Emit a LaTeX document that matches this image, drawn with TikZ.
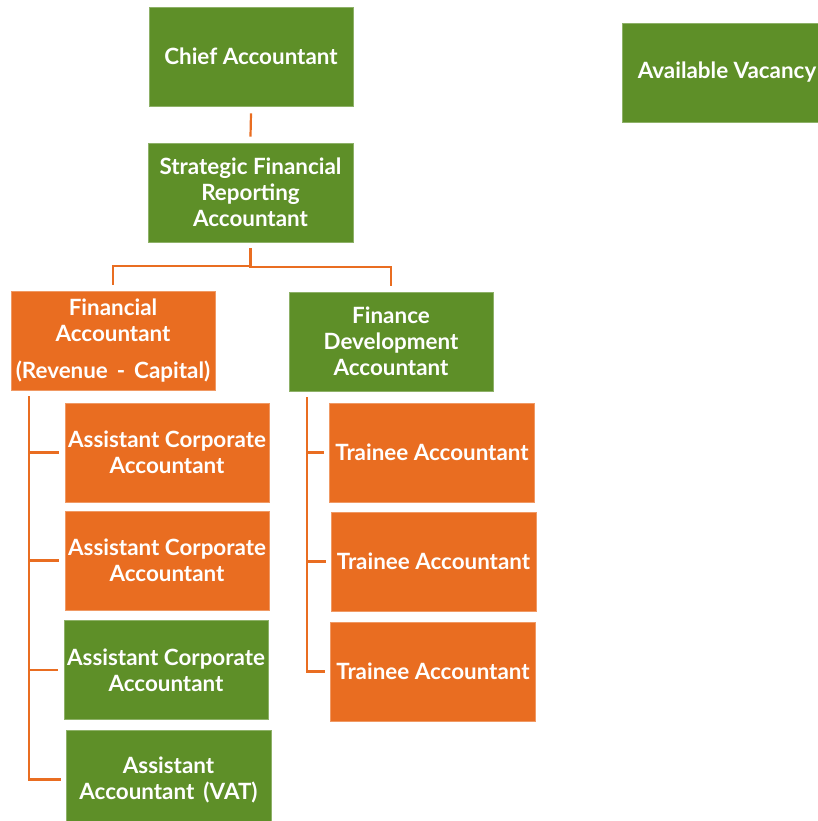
\documentclass[tikz,border=0pt]{standalone}
\usepackage{fontspec}
\setmainfont{Lato}
\definecolor{boxgreen}{HTML}{5E8F28}
\definecolor{boxorange}{HTML}{E96D21}
\begin{document}
\begin{tikzpicture}[x=1pt,y=-1pt,
  card/.style={minimum width=204pt,minimum height=99pt,inner sep=0pt,align=center,
    text=white,font=\fontsize{22.4}{26}\selectfont\bfseries,line width=0.6pt},
  gcard/.style={card,fill=boxgreen,draw=boxgreen!70!white},
  ocard/.style={card,fill=boxorange,draw=boxorange!70!white},
  link/.style={draw=boxorange,line width=2.2pt}]
\useasboundingbox (0,0) rectangle (817,821);
\node[gcard] (chief) at (251,56.5) {Chief Accountant};
\node[gcard,minimum width=205pt] (strat) at (250.5,192.5) {Strategic Financial\\Reporting\\Accountant};
\node[ocard] (finacc) at (113,340.5) {Financial\\Accountant\\[11pt](Revenue\hspace{0.4em}-\hspace{0.4em}Capital)};
\node[gcard] (findev) at (391,341.5) {Finance\\Development\\Accountant};
\node[gcard,minimum width=210pt] (vac) at (727,72.5) {Available Vacancy};
\node[ocard] (aca1) at (167,452.5) {Assistant Corporate\\Accountant};
\node[ocard] (aca2) at (167,560.5) {Assistant Corporate\\Accountant};
\node[gcard] (aca3) at (166,670) {Assistant Corporate\\Accountant};
\node[gcard,minimum width=205pt] (aavat) at (168.5,779.5) {Assistant\\Accountant\hspace{0.4em}(VAT)};
\node[ocard,minimum width=205pt] (ta1) at (432,452.5) {Trainee Accountant};
\node[ocard,minimum width=205pt] (ta2) at (433.5,561.5) {Trainee Accountant};
\node[ocard,minimum width=205pt] (ta3) at (433,671.5) {Trainee Accountant};
% connectors
\draw[link] ([yshift=-7pt]chief.south) -- ([yshift=6pt]strat.north);
\draw[link] ([yshift=-6pt]strat.south) |- ([yshift=25pt]finacc.north) -- ([yshift=6pt]finacc.north);
\draw[link] ([yshift=-6pt]strat.south) |- ([yshift=25pt]findev.north) -- ([yshift=6pt]findev.north);
\coordinate (lt) at ([xshift=-84pt,yshift=-6pt]finacc.south);
\coordinate (rt) at ([xshift=-84pt,yshift=-6pt]findev.south);
\draw[link] (lt) |- ([xshift=-6pt]aca1.west);
\draw[link] (lt) |- ([xshift=-6pt]aca2.west);
\draw[link] (lt) |- ([xshift=-6pt]aca3.west);
\draw[link] (lt) |- ([xshift=-5pt]aavat.west);
\draw[link] (rt) |- ([xshift=-5pt]ta1.west);
\draw[link] (rt) |- ([xshift=-5pt]ta2.west);
\draw[link] (rt) |- ([xshift=-5pt]ta3.west);
\end{tikzpicture}
\end{document}
